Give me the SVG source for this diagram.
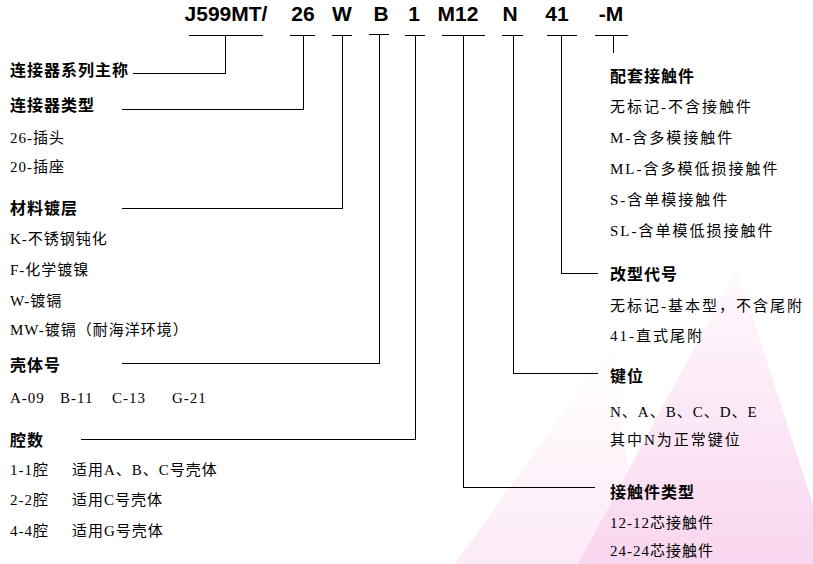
<svg xmlns="http://www.w3.org/2000/svg" width="813" height="564" viewBox="0 0 813 564">
<defs>
<linearGradient id="pk" x1="0" y1="0" x2="0" y2="1">
<stop offset="0" stop-color="#fffafe"/>
<stop offset="1" stop-color="#f9d6ef"/>
</linearGradient>
<linearGradient id="pk2" x1="0" y1="0" x2="0" y2="1">
<stop offset="0" stop-color="#ffffff"/>
<stop offset="1" stop-color="#fcebf7"/>
</linearGradient>
<style>
.hd{font-family:"Liberation Sans",Arial,sans-serif;font-weight:bold;font-size:21px;fill:#000;text-anchor:middle}
.b{font-family:"Noto Sans CJK SC",sans-serif;font-weight:bold;font-size:16px;letter-spacing:1px;fill:#000}
.t{font-family:"Liberation Serif","Noto Sans CJK SC",serif;font-size:15px;letter-spacing:1px;fill:#000}
.r{font-family:"Liberation Serif","Noto Sans CJK SC",serif;font-size:15px;letter-spacing:2px;fill:#000}
.ln{fill:none;stroke:#000;stroke-width:1;shape-rendering:crispEdges}
</style>
</defs>
<rect width="813" height="564" fill="#fff"/>
<g id="background">
<polygon points="455,564 612,345 640,564" fill="url(#pk2)"/>
<polygon points="737,268 832,564 578,564" fill="url(#pk)"/>
</g>
<g id="code">
<text class="hd" x="226" y="21">J599MT/</text>
<text class="hd" x="303" y="21">26</text>
<text class="hd" x="342" y="21">W</text>
<text class="hd" x="381" y="21">B</text>
<text class="hd" x="414" y="21">1</text>
<text class="hd" x="458" y="21">M12</text>
<text class="hd" x="510" y="21">N</text>
<text class="hd" x="557" y="21">41</text>
<text class="hd" x="611" y="21">-M</text>
</g>
<g id="connectors">
<path class="ln" d="M189,35.5H263M225.5,35.5V73.5H133"/>
<path class="ln" d="M290,35.5H315M303.5,35.5V109.5H122"/>
<path class="ln" d="M332,35.5H352M342.5,35.5V208.5H122"/>
<path class="ln" d="M369,34.5H389M379.5,34.5V363.5H122"/>
<path class="ln" d="M405,35.5H425M415.5,35.5V439.5H81"/>
<path class="ln" d="M442,35.5H485M463.5,35.5V487.5H595"/>
<path class="ln" d="M502,35.5H523M513.5,35.5V373.5H598"/>
<path class="ln" d="M547,35.5H577M561.5,35.5V273.5H598"/>
<path class="ln" d="M595,35.5H628M613.5,35.5V53"/>
</g>
<g id="n-series"><text class="b" x="10" y="76">连接器系列主称</text></g>
<g id="n-type">
<text class="b" x="10" y="110.5">连接器类型</text>
<text class="t" x="10" y="143">26-插头</text>
<text class="t" x="10" y="172">20-插座</text>
</g>
<g id="n-material">
<text class="b" x="10" y="213.5">材料镀层</text>
<text class="t" x="10" y="243.5">K-不锈钢钝化</text>
<text class="t" x="10" y="274.5">F-化学镀镍</text>
<text class="t" x="10" y="305.5">W-镀镉</text>
<text class="t" x="10" y="335">MW-镀镉（耐海洋环境）</text>
</g>
<g id="n-shell">
<text class="b" x="10" y="371">壳体号</text>
<text class="t" y="403"><tspan x="10">A-09</tspan><tspan x="60">B-11</tspan><tspan x="112">C-13</tspan><tspan x="172">G-21</tspan></text>
</g>
<g id="n-cavity">
<text class="b" x="10" y="445.5">腔数</text>
<text class="t" y="475"><tspan x="10">1-1腔</tspan><tspan x="72">适用A、B、C号壳体</tspan></text>
<text class="t" y="505"><tspan x="10">2-2腔</tspan><tspan x="72">适用C号壳体</tspan></text>
<text class="t" y="536"><tspan x="10">4-4腔</tspan><tspan x="72">适用G号壳体</tspan></text>
</g>
<g id="n-contacts">
<text class="b" x="610" y="81.5">配套接触件</text>
<text class="r" x="610" y="111.5">无标记-不含接触件</text>
<text class="r" x="610" y="143">M-含多模接触件</text>
<text class="r" x="610" y="174">ML-含多模低损接触件</text>
<text class="r" x="610" y="205">S-含单模接触件</text>
<text class="r" x="610" y="236">SL-含单模低损接触件</text>
</g>
<g id="n-modify">
<text class="b" x="610" y="280">改型代号</text>
<text class="r" x="610" y="310.5">无标记-基本型，不含尾附</text>
<text class="r" x="610" y="341">41-直式尾附</text>
</g>
<g id="n-key">
<text class="b" x="610" y="381.5">键位</text>
<text class="t" x="610" y="417" letter-spacing="0">N、A、B、C、D、E</text>
<text class="r" x="610" y="445">其中N为正常键位</text>
</g>
<g id="n-contacttype">
<text class="b" x="610" y="497.5">接触件类型</text>
<text class="t" x="610" y="528">12-12芯接触件</text>
<text class="t" x="610" y="556">24-24芯接触件</text>
</g>
</svg>
